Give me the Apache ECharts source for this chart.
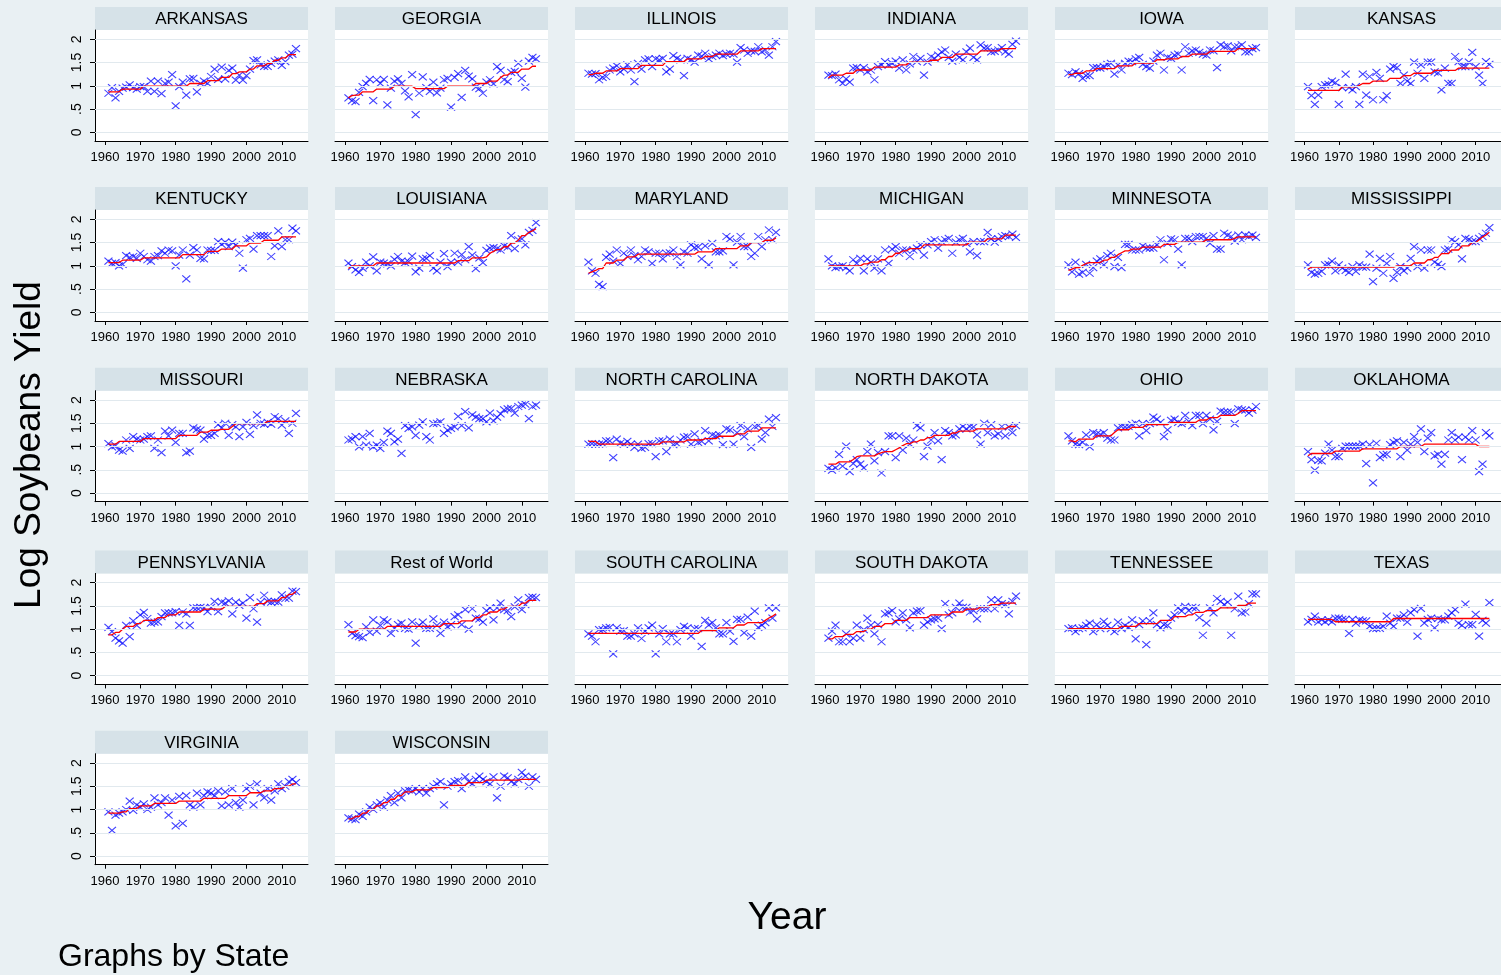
<!DOCTYPE html>
<html>
<head>
<meta charset="utf-8">
<script src="https://cdn.jsdelivr.net/npm/echarts@6/dist/echarts.min.js"></script>
<style>
  html, body { margin: 0; padding: 0; background: #e9f0f3; }
  #chart { width: 1501px; height: 975px; }
</style>
</head>
<body>
<div id="chart"></div>
<script>
// Soybean log-yields by state, 1961-2014, with a fitted step trend.
const firstYear = 1961;
const lastYear = 2014;

const xTickValues = [1960, 1970, 1980, 1990, 2000, 2010];
const yTickValues = [0, 0.5, 1, 1.5, 2];
const yTickLabels = ['0', '.5', '1', '1.5', '2'];

const stateNames = [
  'ARKANSAS', 'GEORGIA', 'ILLINOIS', 'INDIANA', 'IOWA', 'KANSAS',
  'KENTUCKY', 'LOUISIANA', 'MARYLAND', 'MICHIGAN', 'MINNESOTA', 'MISSISSIPPI',
  'MISSOURI', 'NEBRASKA', 'NORTH CAROLINA', 'NORTH DAKOTA', 'OHIO', 'OKLAHOMA',
  'PENNSYLVANIA', 'Rest of World', 'SOUTH CAROLINA', 'SOUTH DAKOTA', 'TENNESSEE', 'TEXAS',
  'VIRGINIA', 'WISCONSIN'
];

// observed log yields, one value per year from 1961
const arkansas = [.84,.96,.74,.88,.95,.97,1.02,.96,.93,.98, .98,.88,1.10,.88,1.10,.83,1.05,1.08,1.24,.57, .98,1.08,.80,1.15,1.16,.87,1.05,1.10,1.05,1.20, 1.36,1.14,1.40,1.15,1.33,1.38,1.12,1.23,1.12,1.22, 1.36,1.54,1.56,1.45,1.42,1.42,1.48,1.53,1.56,1.44, 1.52,1.66,1.68,1.80];
const georgia = [.74,.68,.66,.86,.98,1.05,1.14,.68,1.13,1.05, 1.14,.59,.95,1.10,1.15,1.05,.89,.76,1.24,.38, .84,1.19,.96,.88,1.08,.85,.95,1.13,1.16,.54, 1.18,1.26,.75,1.33,1.21,1.15,.97,.94,.84,1.08, 1.13,1.04,1.41,1.33,1.13,1.09,1.29,1.31,1.48,1.16, .97,1.53,1.61,1.58];
const illinois = [1.27,1.25,1.26,1.13,1.18,1.20,1.34,1.38,1.43,1.30, 1.36,1.45,1.34,1.09,1.48,1.36,1.56,1.58,1.41,1.58, 1.56,1.59,1.30,1.36,1.65,1.59,1.56,1.22,1.59,1.56, 1.51,1.66,1.64,1.70,1.58,1.63,1.66,1.70,1.65,1.68, 1.70,1.68,1.51,1.82,1.77,1.70,1.75,1.74,1.84,1.73, 1.77,1.66,1.84,1.95];
const indiana = [1.23,1.22,1.25,1.13,1.05,1.15,1.08,1.38,1.39,1.34, 1.39,1.30,1.34,1.13,1.41,1.45,1.52,1.45,1.48,1.53, 1.38,1.56,1.34,1.47,1.63,1.52,1.59,1.23,1.51,1.63, 1.59,1.66,1.73,1.77,1.61,1.53,1.68,1.61,1.56,1.73, 1.81,1.61,1.56,1.88,1.81,1.82,1.73,1.74,1.77,1.82, 1.73,1.68,1.89,1.96];
const iowa = [1.27,1.24,1.30,1.26,1.16,1.22,1.22,1.39,1.39,1.38, 1.41,1.46,1.48,1.25,1.45,1.34,1.48,1.53,1.52,1.58, 1.61,1.46,1.41,1.38,1.53,1.66,1.70,1.34,1.61,1.59, 1.66,1.68,1.34,1.84,1.70,1.75,1.77,1.72,1.68,1.66, 1.77,1.75,1.39,1.88,1.84,1.86,1.75,1.84,1.84,1.88, 1.73,1.73,1.80,1.82];
const kansas = [.98,.79,.60,.80,.98,1.02,1.03,1.10,1.07,.60, .96,1.25,.96,.91,.98,.60,1.25,.80,1.20,.70, 1.29,1.16,.70,.79,1.36,1.41,1.39,1.05,1.23,1.10, 1.05,1.51,1.27,1.45,1.16,1.51,1.51,1.30,1.28,.91, 1.38,1.05,1.05,1.63,1.52,1.41,1.41,1.51,1.72,1.41, 1.23,1.05,1.52,1.46];
const kentucky = [1.10,1.05,1.07,1.00,1.03,1.22,1.18,1.20,1.16,1.27, 1.20,1.13,1.10,1.20,1.22,1.32,1.27,1.34,1.32,1.00, 1.23,1.34,.72,1.23,1.39,1.34,1.16,1.15,1.34,1.33, 1.33,1.52,1.46,1.51,1.41,1.51,1.45,1.27,.95,1.56, 1.59,1.36,1.65,1.65,1.65,1.65,1.20,1.43,1.75,1.41, 1.56,1.56,1.81,1.75];
const louisiana = [1.06,.98,.91,.86,.95,1.08,1.00,1.19,.89,1.08, 1.06,1.04,1.00,1.14,1.20,1.10,1.07,1.09,1.21,.87, .95,1.15,1.16,1.22,.95,.89,1.08,1.26,.98,1.08, 1.27,1.08,1.24,1.13,1.41,1.23,.94,1.17,1.07,1.33, 1.38,1.39,1.37,1.34,1.43,1.40,1.65,1.37,1.56,1.58, 1.45,1.72,1.76,1.93];
const maryland = [1.08,.89,.84,.60,.55,1.18,1.25,1.10,1.34,1.05, 1.27,1.20,1.34,1.22,1.13,1.20,1.34,1.30,1.05,1.27, 1.27,1.15,1.27,1.28,1.34,1.20,1.02,1.30,1.27,1.45, 1.39,1.40,1.15,1.43,1.02,1.48,1.30,1.30,1.32,1.63, 1.58,1.02,1.51,1.63,1.41,1.41,1.20,1.27,1.63,1.41, 1.56,1.77,1.56,1.72];
const michigan = [1.15,1.00,.96,.98,1.00,.96,.89,1.13,1.05,1.16, .89,1.15,1.08,.95,1.15,.89,1.34,1.05,1.36,1.41, 1.27,1.34,1.34,1.20,1.34,1.38,1.45,1.23,1.45,1.52, 1.56,1.38,1.52,1.56,1.59,1.27,1.51,1.56,1.59,1.48, 1.30,1.52,1.22,1.52,1.52,1.72,1.58,1.51,1.58,1.63, 1.65,1.63,1.68,1.61];
const minnesota = [1.02,.87,1.08,.82,.86,1.03,.84,.96,1.10,1.15, 1.02,1.22,1.27,.98,1.18,.96,1.46,1.46,1.34,1.34, 1.34,1.43,1.38,1.38,1.38,1.45,1.56,1.13,1.48,1.58, 1.56,1.36,1.02,1.59,1.59,1.52,1.63,1.63,1.63,1.59, 1.48,1.65,1.36,1.36,1.70,1.66,1.63,1.53,1.66,1.56, 1.66,1.63,1.66,1.61];
const mississippi = [1.02,.86,.82,.84,.88,1.02,1.03,1.10,.89,1.02, .95,.90,.86,.98,.88,1.02,.97,.97,1.25,.66, .95,1.16,.84,1.05,1.20,.73,.86,.98,.89,.95, 1.16,1.41,.98,1.34,.95,1.34,1.34,1.08,1.03,.98, 1.34,1.36,1.56,1.52,1.45,1.15,1.59,1.57,1.52,1.52, 1.59,1.63,1.70,1.82];
const missouri = [1.06,.99,1.02,.92,.90,1.14,.96,1.21,1.16,1.14, 1.16,1.21,1.23,.96,1.14,.87,1.33,1.23,1.35,1.09, 1.28,1.28,.87,.90,1.40,1.37,1.35,1.16,1.24,1.24, 1.28,1.47,1.40,1.50,1.24,1.47,1.42,1.21,1.42,1.52, 1.26,1.45,1.68,1.50,1.48,1.52,1.48,1.64,1.60,1.46, 1.55,1.28,1.50,1.71];
const nebraska = [1.14,1.16,1.21,.99,1.21,1.03,1.28,.99,1.03,.96, 1.09,1.33,1.28,1.10,1.16,.85,1.45,1.39,1.42,1.24, 1.46,1.53,1.21,1.14,1.49,1.50,1.53,1.28,1.35,1.39, 1.42,1.65,1.45,1.75,1.40,1.68,1.63,1.60,1.60,1.53, 1.72,1.55,1.63,1.70,1.79,1.81,1.82,1.72,1.86,1.89, 1.91,1.60,1.86,1.89];
const northCarolina = [1.05,1.06,1.05,1.05,1.06,1.12,1.12,.76,1.16,1.07, 1.05,1.11,1.05,.98,1.05,.96,.98,1.06,1.06,.78, 1.12,1.12,.89,1.16,1.04,1.06,1.14,1.20,1.21,1.05, 1.27,1.09,1.11,1.34,1.12,1.25,1.23,1.25,1.04,1.38, 1.36,1.05,1.30,1.45,1.21,1.38,.98,1.43,1.45,1.16, 1.30,1.59,1.43,1.62];
const northDakota = [.53,.49,.54,.83,.58,1.01,.46,.63,.72,.62, .54,.89,1.05,.69,.87,.43,.89,1.23,1.23,.76, 1.23,.92,1.18,1.05,1.14,1.45,1.40,.78,1.01,1.14, 1.30,1.12,.72,1.34,1.30,1.23,1.25,1.38,1.43,1.38, 1.43,1.42,1.25,1.05,1.50,1.30,1.47,1.23,1.27,1.43, 1.23,1.42,1.30,1.45];
const ohio = [1.23,1.12,1.05,1.04,1.09,1.25,.99,1.30,1.27,1.26, 1.30,1.18,1.14,1.14,1.40,1.43,1.42,1.43,1.47,1.50, 1.23,1.49,1.34,1.49,1.63,1.59,1.52,1.21,1.36,1.56, 1.59,1.52,1.49,1.67,1.54,1.45,1.67,1.67,1.49,1.67, 1.59,1.36,1.54,1.76,1.74,1.74,1.74,1.49,1.81,1.79, 1.78,1.72,1.78,1.86];
const oklahoma = [.89,.72,.49,.70,.69,.86,1.05,.92,.78,.78, .96,1.01,1.01,1.01,1.01,1.01,1.05,.63,1.04,.22, 1.07,.76,.82,.83,1.04,1.09,1.12,.78,1.09,.92, 1.05,1.21,1.09,1.38,.89,1.18,1.30,.80,.83,.62, .83,1.14,1.30,1.14,1.20,.72,1.20,1.14,1.34,1.14, .46,.62,1.30,1.23];
const pennsylvania = [1.04,.95,.81,.75,.70,1.08,.84,1.18,1.08,1.31, 1.36,1.23,1.13,1.15,1.16,1.27,1.35,1.35,1.35,1.38, 1.08,1.37,1.33,1.08,1.46,1.46,1.47,1.46,1.38,1.47, 1.60,1.38,1.58,1.56,1.61,1.33,1.58,1.51,1.56,1.24, 1.68,1.44,1.15,1.58,1.73,1.60,1.58,1.60,1.58,1.74, 1.66,1.67,1.82,1.81];
const restOfWorld = [1.10,.91,.86,.84,.82,1.05,.93,1.20,.96,1.08, 1.20,1.16,.91,1.02,1.10,1.13,1.02,1.00,1.16,.70, 1.08,1.15,1.02,1.02,1.22,1.08,.91,1.15,1.05,1.10, 1.27,1.31,1.10,1.42,1.00,1.44,1.24,1.22,1.15,1.40, 1.46,1.20,1.46,1.56,1.42,1.40,1.27,1.48,1.63,1.42, 1.53,1.68,1.69,1.68];
const southCarolina = [.90,.85,.73,.99,.99,1.03,1.04,.47,1.03,.96, .97,.85,.85,.90,1.03,.80,.96,1.03,1.09,.47, .90,1.01,.73,.90,.90,.73,.99,1.06,1.03,.85, 1.01,1.01,.63,1.19,1.09,1.14,1.03,.90,.90,1.14, .96,.74,1.21,1.21,.92,1.26,.85,1.39,1.04,1.09, 1.14,1.46,1.24,1.46];
const southDakota = [.81,.96,1.09,.73,.73,.90,.73,.81,1.09,.81, .99,1.24,1.09,.90,1.10,.73,1.33,1.35,1.40,1.16, 1.22,1.35,1.20,1.03,1.35,1.39,1.40,1.09,1.16,1.20, 1.22,1.24,1.01,1.55,1.31,1.35,1.47,1.56,1.47,1.47, 1.37,1.40,1.22,1.44,1.44,1.44,1.63,1.44,1.63,1.55, 1.53,1.33,1.60,1.71];
const tennessee = [1.01,1.03,.95,1.01,1.03,1.08,1.13,.95,1.10,1.01, 1.17,1.08,1.01,.95,1.15,1.01,1.08,1.04,1.20,.79, 1.10,1.18,.67,1.18,1.35,1.10,1.03,1.10,1.08,1.24, 1.31,1.46,1.39,1.49,1.40,1.47,1.46,1.25,.87,1.13, 1.46,1.35,1.66,1.60,1.53,1.58,.87,1.44,1.71,1.35, 1.37,1.55,1.76,1.76];
const texas = [1.16,1.21,1.28,1.16,1.20,1.16,1.20,1.16,1.24,1.24, 1.21,1.21,.91,1.21,1.13,1.20,1.18,1.18,1.06,1.01, 1.02,1.02,1.06,1.28,1.13,1.06,1.24,1.24,1.31,1.15, 1.35,1.42,.85,1.45,1.13,1.21,1.24,1.03,1.23,1.20, 1.20,1.28,1.35,1.42,1.13,1.08,1.54,1.10,1.10,1.32, .85,1.19,1.13,1.57];
const virginia = [.95,.55,.88,.92,.95,1.00,1.18,.98,1.10,1.05, 1.12,1.00,1.05,1.25,1.10,1.15,1.25,.88,1.20,.65, 1.28,.70,1.30,1.10,1.05,1.35,1.10,1.30,1.38,1.35, 1.30,1.40,1.08,1.38,1.10,1.45,1.15,1.05,1.20,1.45, 1.50,1.10,1.55,1.35,1.25,1.45,1.20,1.40,1.55,1.45, 1.50,1.60,1.65,1.58];
const wisconsin = [.82,.80,.78,.90,.85,.95,1.05,1.00,1.10,1.15, 1.05,1.20,1.30,1.15,1.35,1.25,1.40,1.42,1.40,1.45, 1.38,1.45,1.35,1.45,1.50,1.55,1.60,1.10,1.50,1.55, 1.60,1.62,1.45,1.70,1.60,1.55,1.65,1.72,1.65,1.60, 1.55,1.70,1.25,1.50,1.72,1.68,1.60,1.55,1.65,1.80, 1.72,1.50,1.70,1.65];

// fitted trend as [first year of level, level]
const arkansasFit = [[1961,.87],[1965,.93],[1971,.99],[1984,1.05],[1989,1.11],[1993,1.18],[1996,1.26],[1998,1.30],[2001,1.36],[2003,1.43],[2006,1.48],[2008,1.55],[2010,1.60],[2012,1.67]];
const georgiaFit = [[1961,.74],[1962,.79],[1963,.80],[1965,.87],[1969,.93],[1974,.99],[1980,.94],[1989,.99],[1997,1.05],[2001,1.10],[2004,1.18],[2005,1.23],[2007,1.29],[2010,1.36],[2013,1.42]];
const illinoisFit = [[1961,1.24],[1963,1.27],[1966,1.32],[1970,1.37],[1976,1.44],[1983,1.52],[1989,1.58],[1994,1.63],[1997,1.68],[2004,1.75],[2010,1.80]];
const indianaFit = [[1961,1.17],[1962,1.23],[1966,1.27],[1969,1.34],[1974,1.40],[1981,1.45],[1984,1.51],[1990,1.55],[1993,1.61],[1997,1.68],[2004,1.75],[2010,1.80]];
const iowaFit = [[1961,1.24],[1963,1.27],[1966,1.32],[1969,1.37],[1975,1.43],[1980,1.49],[1986,1.56],[1989,1.58],[1993,1.63],[1996,1.68],[2001,1.74],[2009,1.80]];
const kansasFit = [[1961,.90],[1971,.98],[1976,1.01],[1977,1.05],[1980,1.10],[1985,1.16],[1989,1.22],[1992,1.27],[1998,1.33],[2005,1.38]];
const kentuckyFit = [[1961,1.07],[1965,1.12],[1971,1.17],[1982,1.24],[1989,1.31],[1993,1.36],[1997,1.43],[2001,1.49],[2005,1.55],[2010,1.62]];
const louisianaFit = [[1961,.94],[1962,1.0],[1969,1.06],[1992,1.11],[1996,1.17],[2000,1.19],[2001,1.27],[2002,1.31],[2003,1.35],[2005,1.41],[2007,1.49],[2009,1.55],[2010,1.65],[2012,1.72],[2013,1.75],[2014,1.80]];
const marylandFit = [[1961,.84],[1962,.87],[1963,.90],[1964,.94],[1966,1.06],[1969,1.12],[1972,1.19],[1975,1.25],[1992,1.30],[1997,1.37],[2004,1.43],[2007,1.50],[2011,1.55],[2014,1.60]];
const michiganFit = [[1961,1.0],[1971,1.04],[1973,1.08],[1976,1.13],[1978,1.20],[1980,1.27],[1982,1.32],[1984,1.37],[1988,1.45],[2001,1.51],[2006,1.58],[2011,1.66]];
const minnesotaFit = [[1961,.90],[1962,.93],[1963,.96],[1965,1.01],[1966,1.05],[1967,1.07],[1971,1.12],[1973,1.18],[1975,1.24],[1976,1.28],[1977,1.32],[1979,1.36],[1982,1.40],[1988,1.46],[1992,1.51],[2000,1.56],[2008,1.59],[2009,1.62]];
const mississippiFit = [[1961,.93],[1962,.97],[1987,1.0],[1992,1.06],[1996,1.13],[1998,1.18],[2000,1.26],[2003,1.34],[2006,1.43],[2009,1.50],[2011,1.56],[2012,1.62],[2013,1.66],[2014,1.72]];
const missouriFit = [[1961,1.05],[1964,1.11],[1971,1.17],[1981,1.24],[1987,1.31],[1990,1.35],[1993,1.37],[1996,1.43],[1997,1.49],[2006,1.54]];
const northCarolinaFit = [[1961,1.11],[1964,1.05],[1982,1.10],[1989,1.14],[1994,1.17],[1998,1.22],[2003,1.27],[2006,1.33],[2010,1.40]];
const northDakotaFit = [[1961,.62],[1964,.67],[1968,.72],[1969,.78],[1970,.80],[1975,.84],[1976,.87],[1977,.89],[1980,.93],[1981,.97],[1982,1.02],[1983,1.06],[1985,1.10],[1987,1.14],[1989,1.19],[1991,1.24],[1996,1.29],[1998,1.33],[2003,1.38],[2012,1.43]];
const ohioFit = [[1961,1.12],[1963,1.10],[1964,1.16],[1969,1.23],[1974,1.30],[1975,1.36],[1979,1.41],[1983,1.47],[1990,1.52],[1998,1.57],[2001,1.62],[2004,1.67],[2009,1.71],[2010,1.77]];
const oklahomaFit = [[1961,.80],[1962,.85],[1969,.90],[1977,.95],[1988,1.00],[1995,1.05],[2011,1.00]];
const pennsylvaniaFit = [[1961,.88],[1963,.93],[1965,1.0],[1966,1.06],[1969,1.12],[1971,1.19],[1975,1.25],[1978,1.31],[1981,1.37],[1988,1.43],[1994,1.49],[2003,1.55],[2006,1.61],[2010,1.68],[2012,1.75],[2014,1.81]];
const restOfWorldFit = [[1961,.94],[1964,1.0],[1972,1.06],[1988,1.12],[1993,1.18],[1997,1.25],[1999,1.31],[2001,1.37],[2004,1.43],[2006,1.49],[2010,1.56],[2012,1.62]];
const southCarolinaFit = [[1961,.91],[1993,.97],[1998,1.03],[2003,1.09],[2006,1.14],[2011,1.19],[2012,1.24],[2013,1.28],[2014,1.33]];
const southDakotaFit = [[1961,.79],[1963,.84],[1966,.89],[1969,.95],[1972,1.0],[1974,1.06],[1977,1.12],[1980,1.19],[1984,1.25],[1990,1.31],[1996,1.37],[2000,1.43],[2004,1.48],[2007,1.53],[2010,1.56]];
const tennesseeFit = [[1961,1.01],[1976,1.06],[1981,1.12],[1987,1.19],[1991,1.27],[1995,1.31],[1997,1.36],[2000,1.40],[2004,1.46],[2009,1.51],[2012,1.56]];
const texasFit = [[1961,1.21],[1969,1.16],[1986,1.23]];
const virginiaFit = [[1961,.92],[1965,.95],[1967,1.02],[1970,1.08],[1974,1.13],[1981,1.18],[1988,1.24],[1995,1.30],[2001,1.36],[2005,1.40],[2008,1.45],[2011,1.50],[2013,1.55]];
const wisconsinFit = [[1961,.80],[1963,.85],[1965,.92],[1967,1.0],[1969,1.08],[1971,1.15],[1973,1.22],[1975,1.30],[1977,1.38],[1980,1.42],[1985,1.47],[1990,1.52],[1995,1.58],[2000,1.63],[2010,1.65]];

const panelYields = [arkansas, georgia, illinois, indiana, iowa, kansas,
  kentucky, louisiana, maryland, michigan, minnesota, mississippi,
  missouri, nebraska, northCarolina, northDakota, ohio, oklahoma,
  pennsylvania, restOfWorld, southCarolina, southDakota, tennessee, texas,
  virginia, wisconsin];
const panelFits = [arkansasFit, georgiaFit, illinoisFit, indianaFit, iowaFit, kansasFit,
  kentuckyFit, louisianaFit, marylandFit, michiganFit, minnesotaFit, mississippiFit,
  missouriFit, null, northCarolinaFit, northDakotaFit, ohioFit, oklahomaFit,
  pennsylvaniaFit, restOfWorldFit, southCarolinaFit, southDakotaFit, tennesseeFit, texasFit,
  virginiaFit, wisconsinFit];

// ---- layout ----
const COLS = 6;
const PANEL_LEFT = 95, COL_STEP = 240, PANEL_W = 213;
const ROW_TOPS = [30, 210, 390.7, 573.4, 753.7];
const PLOT_H = 111, BAR_H = 23;
const X_MIN = 1957.2, X_MAX = 2017.4;
const Y_MIN = -0.187, Y_MAX = 2.2;

const BG = '#e9f0f3', BAR = '#d6e2e8', GRIDLINE = '#e1e9ee';
const MARK_BLUE = '#1010ff', FIT_RED = '#ff0000';
const FONT = '"Liberation Sans", Arial, sans-serif';
const NARROW = '"Liberation Sans Narrow", "Arial Narrow", "Liberation Sans", sans-serif';

const years = [];
for (let y = firstYear; y <= lastYear; y++) years.push(y);

function fitLine(runs) {
  return years.map(y => {
    let level = runs[0][1];
    for (const [start, v] of runs) if (y >= start) level = v;
    return [y, level];
  });
}

const grids = [], xAxes = [], yAxes = [], series = [], graphics = [];

stateNames.forEach((name, i) => {
  const col = i % COLS, row = Math.floor(i / COLS);
  const left = PANEL_LEFT + COL_STEP * col;
  const top = ROW_TOPS[row];

  grids.push({ left, top, width: PANEL_W, height: PLOT_H, show: true,
    backgroundColor: '#ffffff', borderWidth: 0, containLabel: false });

  xAxes.push({
    gridIndex: i, type: 'value', min: X_MIN, max: X_MAX,
    axisLine: { show: true, onZero: false, lineStyle: { color: '#000', width: 1 } },
    axisTick: { show: true, customValues: xTickValues, length: 4, lineStyle: { color: '#000' } },
    axisLabel: { customValues: xTickValues, formatter: v => String(v),
      color: '#000', fontSize: 13, fontFamily: NARROW, margin: 10 },
    splitLine: { show: false }
  });

  yAxes.push({
    gridIndex: i, type: 'value', min: Y_MIN, max: Y_MAX, show: col === 0,
    axisLine: { show: true, onZero: false, lineStyle: { color: '#000', width: 1 } },
    axisTick: { show: true, customValues: yTickValues, length: 5, lineStyle: { color: '#000' } },
    axisLabel: { customValues: yTickValues, rotate: 90,
      formatter: v => yTickLabels[yTickValues.indexOf(v)],
      color: '#000', fontSize: 14, fontFamily: NARROW, margin: 11 },
    splitLine: { show: false }
  });

  // horizontal reference lines at the labelled y values
  series.push({
    type: 'line', xAxisIndex: i, yAxisIndex: i, data: [], z: 1, silent: true,
    markLine: { silent: true, symbol: ['none', 'none'], label: { show: false },
      lineStyle: { color: GRIDLINE, width: 1, type: 'solid' }, animation: false,
      emphasis: { disabled: true },
      data: yTickValues.map(v => ({ yAxis: v })) }
  });

  series.push({
    type: 'scatter', xAxisIndex: i, yAxisIndex: i, z: 3, silent: true,
    symbol: 'path://M0,0L10,10M10,0L0,10', symbolSize: [8, 7],
    itemStyle: { color: 'rgba(0,0,0,0)', borderColor: MARK_BLUE, borderWidth: 1.1 },
    data: panelYields[i].map((v, k) => [years[k], v])
  });

  if (panelFits[i]) {
    series.push({
      type: 'line', xAxisIndex: i, yAxisIndex: i, z: 4, silent: true,
      showSymbol: false, symbol: 'none',
      lineStyle: { color: FIT_RED, width: 1.3 },
      data: fitLine(panelFits[i])
    });
  }

  graphics.push({ type: 'rect', silent: true,
    shape: { x: left, y: top - BAR_H, width: PANEL_W, height: BAR_H },
    style: { fill: BAR } });
  graphics.push({ type: 'text', silent: true, x: left + PANEL_W / 2, y: top - BAR_H / 2 + 1,
    style: { text: name, fill: '#000', font: '17px ' + FONT, align: 'center', verticalAlign: 'middle' } });
});

graphics.push({ type: 'text', silent: true, x: 30, y: 445, rotation: Math.PI / 2,
  style: { text: 'Log Soybeans Yield', fill: '#000', font: '37px ' + FONT, align: 'center', verticalAlign: 'middle' } });
graphics.push({ type: 'text', silent: true, x: 787, y: 918,
  style: { text: 'Year', fill: '#000', font: '39px ' + FONT, align: 'center', verticalAlign: 'middle' } });
graphics.push({ type: 'text', silent: true, x: 58, y: 957,
  style: { text: 'Graphs by State', fill: '#000', font: '32px ' + FONT, align: 'left', verticalAlign: 'middle' } });

const chart = echarts.init(document.getElementById('chart'), null, { renderer: 'canvas' });
chart.setOption({
  animation: false,
  backgroundColor: BG,
  grid: grids,
  xAxis: xAxes,
  yAxis: yAxes,
  series,
  graphic: { elements: graphics }
});
</script>
</body>
</html>
